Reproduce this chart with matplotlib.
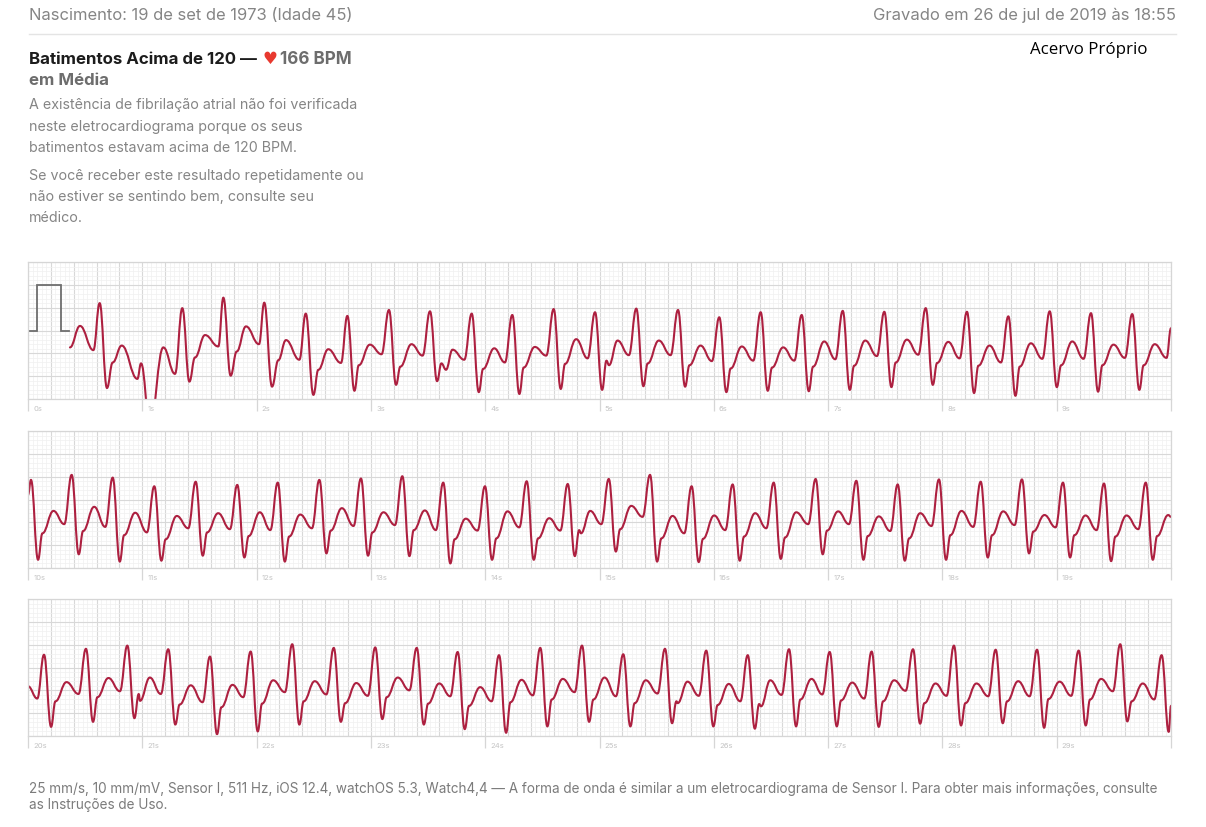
import matplotlib
matplotlib.use('Agg')
import matplotlib.pyplot as plt
from matplotlib.lines import Line2D
from matplotlib.patches import PathPatch
from matplotlib.path import Path

# --- Readings: seconds on x, mV above the strip's lower edge on y ---
cal_t = [0.0, 0.08, 0.08, 0.285, 0.285, 0.36]
cal_v = [1.5, 1.5, 2.5, 2.5, 1.5, 1.5]

# strip 1: irregular start, read turn by turn
s1_extra_t = [0.367, 0.455, 0.572, 0.627, 0.691, 0.741, 0.820, 0.957, 0.989, 1.067, 1.184, 1.286,
              1.350, 1.412, 1.461, 1.549, 1.665, 1.709, 1.773, 1.826, 1.907, 2.021, 2.067, 2.135,
              2.190, 2.257, 2.374, 2.430, 2.497, 2.540, 2.627, 2.738, 3.657, 5.083, 10.0]
s1_extra_v = [1.13, 1.60, 1.07, 2.10, 0.24, 0.80, 1.17, 0.44, 0.78, -0.55, 1.13, 0.55,
              1.99, 0.38, 0.91, 1.40, 1.15, 2.22, 0.51, 1.04, 1.59, 1.20, 2.11, 0.27,
              0.85, 1.29, 0.86, 1.87, 0.09, 0.64, 1.09, 0.79, 0.64, 0.74, 1.55]
s1_r_t = [2.794, 3.158, 3.517, 3.882, 4.237, 4.599, 4.961, 5.322, 5.687, 6.048,
          6.410, 6.769, 7.128, 7.492, 7.854, 8.215, 8.577, 8.939, 9.300, 9.661]
s1_r = [1.82, 1.95, 1.92, 1.87, 1.84, 1.97, 1.90, 1.98, 1.95, 1.79,
        1.90, 1.84, 1.93, 1.91, 1.99, 1.91, 1.81, 1.92, 1.88, 1.86]
s1_s = [0.18, 0.31, 0.39, 0.15, 0.11, 0.22, 0.20, 0.28, 0.27, 0.15,
        0.18, 0.17, 0.20, 0.26, 0.31, 0.13, 0.07, 0.26, 0.16, 0.20]
s1_sh = [0.74, 0.71, 0.78, 0.66, 0.69, 0.77, 0.84, 0.78, 0.74, 0.67,
         0.69, 0.71, 0.73, 0.80, 0.79, 0.73, 0.71, 0.74, 0.74, 0.74]
s1_tw = [1.19, 1.20, 1.08, 1.11, 1.14, 1.31, 1.28, 1.28, 1.17, 1.15,
         1.13, 1.26, 1.28, 1.30, 1.25, 1.17, 1.22, 1.26, 1.19, 1.20]
s1_val = [0.98, 0.95, 0.86, 0.80, 0.95, 0.89, 0.96, 0.96, 0.83, 0.84,
          0.84, 0.87, 0.94, 0.97, 0.89, 0.80, 0.88, 0.88, 0.90, 0.90]

# strip 2
s2_extra_t = [0.0, 4.838, 10.0]
s2_extra_v = [1.60, 0.76, 1.12]
s2_r_t = [0.026, 0.382, 0.741, 1.105, 1.467, 1.831, 2.185, 2.549, 2.913, 3.275, 3.633, 3.998, 4.363, 4.722,
          5.081, 5.442, 5.806, 6.165, 6.524, 6.891, 7.247, 7.609, 7.970, 8.335, 8.696, 9.055, 9.414, 9.779]
s2_r = [1.93, 2.04, 1.98, 1.79, 1.89, 1.82, 1.87, 1.93, 1.96, 2.01, 1.87, 1.79, 1.90, 1.84,
        1.95, 2.04, 1.79, 1.83, 1.87, 1.95, 1.91, 1.83, 1.94, 1.89, 1.94, 1.87, 1.85, 1.87]
s2_s = [0.18, 0.30, 0.14, 0.16, 0.27, 0.23, 0.14, 0.32, 0.27, 0.26, 0.10, 0.18, 0.18, 0.26,
        0.36, 0.14, 0.13, 0.16, 0.20, 0.30, 0.18, 0.16, 0.18, 0.23, 0.32, 0.23, 0.15, 0.18]
s2_sh = [0.76, 0.81, 0.72, 0.63, 0.78, 0.70, 0.69, 0.82, 0.78, 0.83, 0.63, 0.65, 0.65, 0.83,
         0.85, 0.65, 0.64, 0.69, 0.67, 0.82, 0.70, 0.65, 0.72, 0.72, 0.80, 0.72, 0.69, 0.70]
s2_tw = [1.25, 1.34, 1.21, 1.14, 1.20, 1.22, 1.17, 1.31, 1.22, 1.26, 1.08, 1.24, 1.09, 1.25,
         1.36, 1.14, 1.15, 1.20, 1.22, 1.24, 1.13, 1.20, 1.25, 1.24, 1.16, 1.15, 1.15, 1.16]
s2_val = [0.96, 0.90, 0.78, 0.87, 0.85, 0.83, 0.87, 0.92, 0.94, 0.83, 0.82, 0.89, 0.82, 0.96,
          1.12, 0.76, 0.83, 0.87, 0.96, 0.96, 0.81, 0.92, 0.90, 0.94, 0.89, 0.83, 0.85]

# strip 3
s3_extra_t = [0.0, 0.081, 0.980, 5.684, 6.413, 10.0]
s3_extra_v = [1.09, 0.82, 0.77, 0.72, 0.65, 0.66]
s3_r_t = [0.140, 0.507, 0.869, 1.227, 1.592, 1.948, 2.312, 2.675, 3.038, 3.401, 3.759, 4.121, 4.482, 4.847,
          5.208, 5.573, 5.934, 6.297, 6.658, 7.014, 7.381, 7.743, 8.101, 8.466, 8.828, 9.192, 9.556, 9.918]
s3_r = [1.78, 1.91, 1.98, 1.90, 1.74, 1.85, 2.01, 1.93, 1.94, 1.93, 1.84, 1.77, 1.93, 1.98,
        1.79, 1.91, 1.87, 1.77, 1.90, 1.84, 1.85, 1.90, 1.98, 1.89, 1.89, 1.87, 2.01, 1.77]
s3_s = [0.20, 0.31, 0.39, 0.25, 0.04, 0.10, 0.25, 0.31, 0.37, 0.25, 0.15, 0.07, 0.21, 0.31,
        0.21, 0.28, 0.21, 0.16, 0.21, 0.21, 0.20, 0.27, 0.23, 0.28, 0.18, 0.23, 0.32, 0.09]
s3_sh = [0.76, 0.85, 0.92, 0.69, 0.63, 0.71, 0.76, 0.72, 0.85, 0.71, 0.66, 0.74, 0.80, 0.80,
         0.72, 0.76, 0.68, 0.70, 0.80, 0.78, 0.76, 0.72, 0.72, 0.76, 0.81, 0.80, 0.76]
s3_tw = [1.18, 1.27, 1.28, 1.11, 1.12, 1.22, 1.20, 1.16, 1.28, 1.15, 1.07, 1.23, 1.25, 1.28,
         1.22, 1.19, 1.14, 1.22, 1.25, 1.17, 1.22, 1.15, 1.15, 1.20, 1.19, 1.25, 1.15]
s3_val = [0.92, 0.98, 0.92, 0.74, 0.85, 0.96, 0.91, 0.88, 1.00, 0.87, 0.76, 0.89, 0.96, 0.87,
          0.93, 0.88, 0.76, 0.90, 0.91, 0.82, 0.99, 0.88, 0.87, 0.87, 0.88, 0.98, 0.80]

sec_labels = [[f'{i}s' for i in range(0, 10)],
              [f'{i}s' for i in range(10, 20)],
              [f'{i}s' for i in range(20, 30)]]

W, H = 1206, 828
TRACE = '#ad2040'
TEXT_GREY = '#858585'
FONT = 'Inter'


def fx(x):
    return x / W


def fy(y):
    return 1 - y / H


def turning_points(r_t, r, s, sh, tw, val, extra_t, extra_v):
    """Merge the turning points read for each beat into one time-ordered list."""
    pts = list(zip(extra_t, extra_v))
    for i in range(len(r_t)):
        pts.append((r_t[i], r[i]))
        pts.append((r_t[i] + 0.062, s[i]))
        if i < len(sh):
            pts.append((r_t[i] + 0.100, sh[i]))
        if i < len(tw):
            pts.append((r_t[i] + 0.197, tw[i]))
        if i < len(val):
            next_t = r_t[i + 1] - 0.065 if i + 1 < len(r_t) else r_t[i] + 0.30
            pts.append((next_t, val[i]))
    return sorted(pts)


def trace_path(pts, k=0.42):
    """Smooth line through the turning points: flat tangent at each one."""
    verts = [pts[0]]
    codes = [Path.MOVETO]
    for (t0, v0), (t1, v1) in zip(pts[:-1], pts[1:]):
        dt = t1 - t0
        verts += [(t0 + k * dt, v0), (t1 - k * dt, v1), (t1, v1)]
        codes += [Path.CURVE4, Path.CURVE4, Path.CURVE4]
    return Path(verts, codes)


fig = plt.figure(figsize=(W / 100, H / 100), dpi=100, facecolor='white')

strips = [
    (263, s1_r_t, s1_r, s1_s, s1_sh, s1_tw, s1_val, s1_extra_t, s1_extra_v),
    (432, s2_r_t, s2_r, s2_s, s2_sh, s2_tw, s2_val, s2_extra_t, s2_extra_v),
    (600, s3_r_t, s3_r, s3_s, s3_sh, s3_tw, s3_val, s3_extra_t, s3_extra_v),
]

for n, (top, r_t, r, s, sh, tw, val, ex_t, ex_v) in enumerate(strips):
    ax = fig.add_axes([fx(28), fy(top + 137), 1143 / W, 137 / H])
    ax.set_xlim(0, 10)
    ax.set_ylim(0, 3)
    ax.set_xticks([i * 0.2 for i in range(51)])
    ax.set_xticks([i * 0.04 for i in range(251)], minor=True)
    ax.set_yticks([i * 0.5 for i in range(7)])
    ax.set_yticks([i * 0.1 for i in range(31)], minor=True)
    ax.tick_params(which='both', length=0, labelbottom=False, labelleft=False)
    ax.grid(which='minor', color='#f0f0f0', lw=0.5)
    ax.grid(which='major', color='#d8d8d8', lw=0.8)
    ax.set_axisbelow(True)
    for side in ax.spines.values():
        side.set_color('#d6d6d6')
        side.set_linewidth(0.9)

    # second marks under the strip
    ax.vlines(range(11), -0.27, 0, color='#d6d6d6', lw=0.9, clip_on=False)
    for i, lab in enumerate(sec_labels[n]):
        ax.text(i + 0.045, -0.2, lab, fontsize=5.5, color='#c4c4c4', family=FONT, va='center')

    if n == 0:
        ax.plot(cal_t, cal_v, color='#6e6e6e', lw=1.3, solid_joinstyle='miter')

    pts = turning_points(r_t, r, s, sh, tw, val, ex_t, ex_v)
    ax.add_patch(PathPatch(trace_path(pts), fill=False, edgecolor=TRACE, lw=1.5,
                           capstyle='round', joinstyle='round'))

# --- Header ---
fig.text(fx(29), fy(15), 'Nascimento: 19 de set de 1973 (Idade 45)', fontsize=11.95,
         color=TEXT_GREY, family=FONT, va='center')
fig.text(fx(1176), fy(15), 'Gravado em 26 de jul de 2019 às 18:55', fontsize=11.95,
         color=TEXT_GREY, family=FONT, va='center', ha='right')
fig.add_artist(Line2D([fx(29), fx(1176)], [fy(35), fy(35)], color='#e4e4e4', lw=1.0))
fig.text(fx(1030), fy(50), 'Acervo Próprio', fontsize=12.2, color='black',
         family='Open Sans', va='center')

# --- Result block ---
fig.text(fx(29), fy(59.5), 'Batimentos Acima de 120 —', fontsize=12.15, fontweight='bold',
         color='#1c1c1c', family=FONT, va='center')
fig.text(fx(262), fy(59), '♥', fontsize=12, color='#e8392f', family='DejaVu Sans', va='center')
fig.text(fx(280), fy(59.5), '166 BPM', fontsize=12.3, fontweight='bold',
         color='#6d6d6d', family=FONT, va='center')
fig.text(fx(29), fy(80.5), 'em Média', fontsize=12.15, fontweight='bold',
         color='#6d6d6d', family=FONT, va='center')

body = [(105.5, 'A existência de fibrilação atrial não foi verificada'),
        (126.5, 'neste eletrocardiograma porque os seus'),
        (147.5, 'batimentos estavam acima de 120 BPM.'),
        (176.5, 'Se você receber este resultado repetidamente ou'),
        (197.5, 'não estiver se sentindo bem, consulte seu'),
        (218.5, 'médico.')]
for y, line in body:
    fig.text(fx(29), fy(y), line, fontsize=10.25, color=TEXT_GREY, family=FONT, va='center')

# --- Footer ---
fig.text(fx(29), fy(789.5), '25 mm/s, 10 mm/mV, Sensor I, 511 Hz, iOS 12.4, watchOS 5.3, Watch4,4 — '
         'A forma de onda é similar a um eletrocardiograma de Sensor I. Para obter mais informações, consulte',
         fontsize=9.75, color='#7b7b7b', family=FONT, va='center')
fig.text(fx(29), fy(805.5), 'as Instruções de Uso.', fontsize=9.75, color='#7b7b7b', family=FONT, va='center')

fig.savefig('out.png', dpi=100)
